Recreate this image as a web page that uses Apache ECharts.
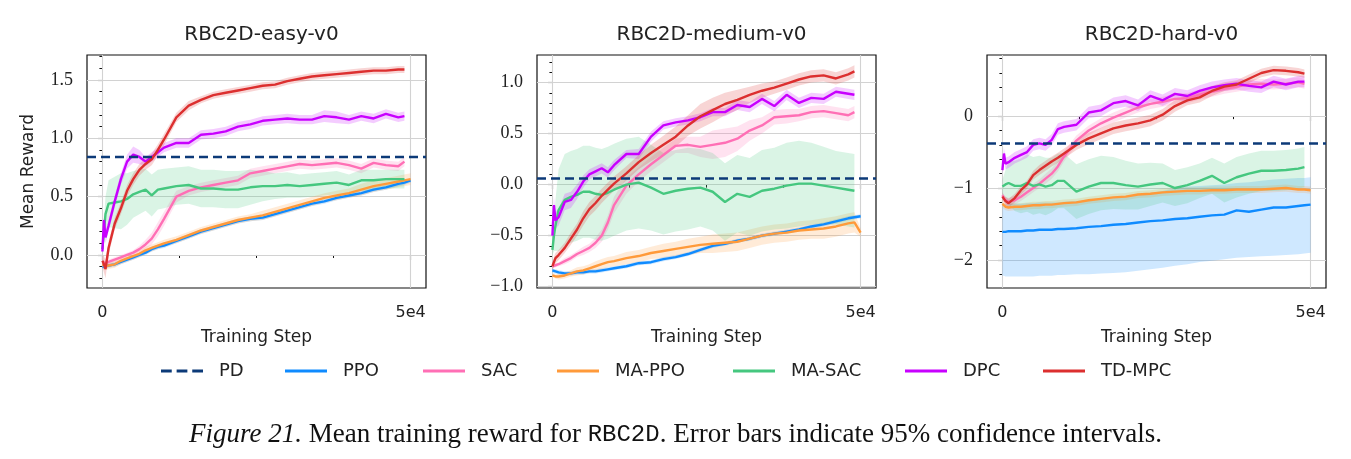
<!DOCTYPE html>
<html lang="en">
<head>
<meta charset="UTF-8">
<title>RBC2D mean training reward</title>
<script src="https://cdn.jsdelivr.net/npm/echarts@6/dist/echarts.min.js"></script>
<style>
  html, body { margin: 0; padding: 0; background: #fff; }
  #main { width: 1351px; height: 459px; }
</style>
</head>
<body>
<div id="main"></div>
<script>
// training steps shared by every curve (the short curves stop at 49000)
const steps = [0, 250, 500, 1000, 2000, 3000, 4000, 5000, 6000, 7000, 8000, 9000, 10000,
  12000, 14000, 16000, 18000, 20000, 22000, 24000, 26000, 28000, 30000, 32000, 34000,
  36000, 38000, 40000, 42000, 44000, 46000, 48000, 49000, 50000];

const names = ['PD', 'PPO', 'SAC', 'MA-PPO', 'MA-SAC', 'DPC', 'TD-MPC'];
const panelTitles = ['RBC2D-easy-v0', 'RBC2D-medium-v0', 'RBC2D-hard-v0'];
const pdLevel = [0.84, 0.06, -0.38];

const yMajor = [[0, 0.5, 1, 1.5], [-1, -0.5, 0, 0.5, 1], [-2, -1, 0]];
const yTickLabels = [['0.0', '0.5', '1.0', '1.5'], ['\u22121.0', '\u22120.5', '0.0', '0.5', '1.0'], ['\u22122', '\u22121', '0']];
const xTickLabels = ['0', '5e4'];

// ---- RBC2D-easy-v0 ----
const easyPPO = [-0.1, -0.1, -0.1, -0.09, -0.08, -0.06, -0.04, -0.02, 0.0, 0.02, 0.05, 0.07, 0.08, 0.12, 0.16, 0.2, 0.23, 0.26, 0.29, 0.31, 0.32, 0.35, 0.38, 0.41, 0.44, 0.46, 0.49, 0.51, 0.53, 0.56, 0.58, 0.61, 0.62, 0.64];
const easyPPOci = [0.02, 0.02, 0.02, 0.02, 0.02, 0.02, 0.02, 0.02, 0.02, 0.02, 0.02, 0.02, 0.02, 0.02, 0.02, 0.02, 0.02, 0.02, 0.02, 0.02, 0.02, 0.02, 0.02, 0.02, 0.02, 0.02, 0.02, 0.02, 0.02, 0.02, 0.02, 0.02, 0.02, 0.02];
const easySAC = [-0.06, -0.07, -0.07, -0.06, -0.04, -0.02, 0.0, 0.02, 0.05, 0.09, 0.14, 0.22, 0.31, 0.5, 0.55, 0.58, 0.6, 0.62, 0.64, 0.7, 0.72, 0.74, 0.76, 0.78, 0.77, 0.78, 0.79, 0.77, 0.74, 0.79, 0.77, 0.76, 0.8];
const easySACci = [0.02, 0.02, 0.02, 0.02, 0.02, 0.02, 0.02, 0.02, 0.03, 0.04, 0.05, 0.06, 0.06, 0.05, 0.04, 0.04, 0.04, 0.04, 0.04, 0.04, 0.04, 0.04, 0.04, 0.04, 0.04, 0.04, 0.04, 0.04, 0.04, 0.04, 0.04, 0.04, 0.04];
const easyMAPPO = [-0.08, -0.09, -0.1, -0.09, -0.08, -0.05, -0.03, -0.01, 0.01, 0.04, 0.06, 0.08, 0.1, 0.13, 0.17, 0.21, 0.24, 0.27, 0.3, 0.32, 0.34, 0.37, 0.4, 0.43, 0.46, 0.49, 0.51, 0.53, 0.56, 0.59, 0.61, 0.63, 0.64, 0.65];
const easyMAPPOci = [0.03, 0.03, 0.03, 0.03, 0.03, 0.03, 0.03, 0.03, 0.03, 0.03, 0.03, 0.03, 0.03, 0.03, 0.03, 0.03, 0.03, 0.03, 0.03, 0.03, 0.04, 0.04, 0.04, 0.04, 0.04, 0.04, 0.04, 0.04, 0.05, 0.05, 0.05, 0.05, 0.05, 0.05];
const easyMASAC = [0.05, 0.2, 0.35, 0.44, 0.45, 0.46, 0.48, 0.52, 0.54, 0.56, 0.51, 0.56, 0.57, 0.59, 0.6, 0.57, 0.57, 0.56, 0.56, 0.58, 0.59, 0.59, 0.6, 0.59, 0.6, 0.61, 0.62, 0.6, 0.64, 0.64, 0.65, 0.65, 0.65];
const easyMASACci = [0.05, 0.1, 0.15, 0.2, 0.22, 0.24, 0.22, 0.2, 0.19, 0.18, 0.18, 0.17, 0.17, 0.16, 0.16, 0.16, 0.16, 0.16, 0.16, 0.15, 0.13, 0.11, 0.11, 0.1, 0.1, 0.1, 0.1, 0.09, 0.09, 0.09, 0.08, 0.08, 0.08];
const easyDPC = [0.03, 0.3, 0.15, 0.25, 0.46, 0.65, 0.8, 0.86, 0.84, 0.8, 0.84, 0.88, 0.92, 0.96, 0.96, 1.03, 1.04, 1.06, 1.1, 1.12, 1.15, 1.16, 1.17, 1.16, 1.16, 1.19, 1.18, 1.16, 1.19, 1.17, 1.21, 1.18, 1.19];
const easyDPCci = [0.03, 0.05, 0.05, 0.05, 0.05, 0.05, 0.06, 0.07, 0.06, 0.04, 0.04, 0.04, 0.04, 0.04, 0.04, 0.04, 0.04, 0.04, 0.04, 0.04, 0.04, 0.04, 0.04, 0.04, 0.04, 0.05, 0.05, 0.04, 0.04, 0.04, 0.04, 0.04, 0.04];
const easyTD = [-0.05, -0.08, -0.12, 0.06, 0.27, 0.4, 0.55, 0.65, 0.73, 0.78, 0.82, 0.9, 0.99, 1.18, 1.28, 1.33, 1.37, 1.39, 1.41, 1.43, 1.45, 1.46, 1.49, 1.51, 1.53, 1.54, 1.55, 1.56, 1.57, 1.58, 1.58, 1.59, 1.59];
const easyTDci = [0.05, 0.07, 0.08, 0.06, 0.05, 0.05, 0.05, 0.05, 0.05, 0.05, 0.05, 0.05, 0.05, 0.04, 0.04, 0.03, 0.03, 0.03, 0.03, 0.03, 0.03, 0.03, 0.03, 0.03, 0.03, 0.03, 0.03, 0.03, 0.03, 0.03, 0.03, 0.03, 0.03];

// ---- RBC2D-medium-v0 ----
const medPPO = [-0.84, -0.85, -0.85, -0.86, -0.87, -0.87, -0.86, -0.86, -0.85, -0.85, -0.84, -0.83, -0.82, -0.8, -0.77, -0.76, -0.73, -0.71, -0.68, -0.64, -0.6, -0.58, -0.55, -0.53, -0.5, -0.48, -0.46, -0.44, -0.41, -0.39, -0.36, -0.33, -0.32, -0.31];
const medPPOci = [0.02, 0.02, 0.02, 0.02, 0.02, 0.02, 0.02, 0.02, 0.02, 0.02, 0.02, 0.02, 0.02, 0.02, 0.02, 0.02, 0.02, 0.02, 0.02, 0.02, 0.02, 0.02, 0.02, 0.02, 0.02, 0.02, 0.02, 0.02, 0.02, 0.02, 0.02, 0.02, 0.02, 0.02];
const medSAC = [-0.8, -0.8, -0.79, -0.78, -0.75, -0.72, -0.68, -0.65, -0.62, -0.57, -0.5, -0.37, -0.2, -0.01, 0.1, 0.2, 0.29, 0.38, 0.39, 0.37, 0.39, 0.41, 0.45, 0.53, 0.58, 0.66, 0.67, 0.68, 0.71, 0.72, 0.7, 0.68, 0.71];
const medSACci = [0.02, 0.02, 0.02, 0.02, 0.03, 0.03, 0.03, 0.04, 0.04, 0.05, 0.06, 0.07, 0.08, 0.08, 0.07, 0.07, 0.07, 0.07, 0.08, 0.1, 0.14, 0.14, 0.12, 0.1, 0.08, 0.07, 0.07, 0.06, 0.06, 0.06, 0.06, 0.06, 0.06];
const medMAPPO = [-0.89, -0.89, -0.9, -0.9, -0.89, -0.87, -0.85, -0.84, -0.82, -0.8, -0.78, -0.76, -0.75, -0.72, -0.7, -0.67, -0.65, -0.63, -0.61, -0.59, -0.58, -0.57, -0.56, -0.53, -0.5, -0.48, -0.47, -0.45, -0.44, -0.43, -0.41, -0.38, -0.37, -0.47];
const medMAPPOci = [0.02, 0.02, 0.02, 0.03, 0.03, 0.03, 0.04, 0.04, 0.04, 0.05, 0.05, 0.05, 0.05, 0.06, 0.06, 0.06, 0.07, 0.07, 0.08, 0.08, 0.09, 0.09, 0.09, 0.09, 0.09, 0.09, 0.09, 0.09, 0.09, 0.1, 0.1, 0.1, 0.1, 0.04];
const medMASAC = [-0.64, -0.5, -0.4, -0.25, -0.15, -0.12, -0.1, -0.07, -0.07, -0.09, -0.1, -0.08, -0.05, 0.0, 0.02, -0.03, -0.09, -0.06, -0.04, -0.03, -0.07, -0.17, -0.09, -0.12, -0.06, -0.04, -0.01, 0.01, 0.01, -0.01, -0.03, -0.05, -0.06];
const medMASACci = [0.05, 0.15, 0.25, 0.4, 0.45, 0.45, 0.45, 0.45, 0.45, 0.45, 0.45, 0.45, 0.45, 0.45, 0.45, 0.42, 0.4, 0.4, 0.4, 0.38, 0.38, 0.38, 0.38, 0.38, 0.4, 0.4, 0.42, 0.42, 0.4, 0.38, 0.36, 0.36, 0.36];
const medDPC = [-0.5, -0.2, -0.35, -0.32, -0.17, -0.15, -0.07, 0.03, 0.1, 0.13, 0.16, 0.12, 0.19, 0.3, 0.3, 0.47, 0.58, 0.61, 0.63, 0.66, 0.71, 0.71, 0.78, 0.76, 0.84, 0.77, 0.88, 0.8, 0.85, 0.84, 0.91, 0.89, 0.88];
const medDPCci = [0.05, 0.08, 0.08, 0.08, 0.08, 0.08, 0.07, 0.06, 0.05, 0.05, 0.05, 0.05, 0.05, 0.04, 0.05, 0.05, 0.04, 0.04, 0.04, 0.04, 0.04, 0.04, 0.05, 0.05, 0.05, 0.05, 0.05, 0.05, 0.05, 0.05, 0.05, 0.05, 0.05];
const medTD = [-0.8, -0.76, -0.72, -0.69, -0.62, -0.53, -0.44, -0.33, -0.24, -0.18, -0.11, -0.05, 0.01, 0.11, 0.22, 0.31, 0.39, 0.47, 0.58, 0.67, 0.73, 0.79, 0.83, 0.88, 0.92, 0.95, 0.99, 1.03, 1.06, 1.07, 1.04, 1.08, 1.11];
const medTDci = [0.04, 0.05, 0.05, 0.05, 0.05, 0.06, 0.06, 0.07, 0.07, 0.07, 0.07, 0.07, 0.07, 0.07, 0.07, 0.08, 0.09, 0.1, 0.1, 0.12, 0.12, 0.11, 0.1, 0.08, 0.07, 0.06, 0.06, 0.06, 0.06, 0.06, 0.06, 0.06, 0.06];

// ---- RBC2D-hard-v0 ----
const hardPPO = [-1.61, -1.61, -1.61, -1.6, -1.6, -1.6, -1.59, -1.59, -1.58, -1.58, -1.58, -1.57, -1.57, -1.56, -1.54, -1.53, -1.51, -1.5, -1.48, -1.46, -1.45, -1.43, -1.42, -1.4, -1.38, -1.37, -1.31, -1.33, -1.3, -1.27, -1.27, -1.25, -1.24, -1.23];
const hardPPOlo = [-2.22, -2.22, -2.23, -2.23, -2.23, -2.23, -2.23, -2.23, -2.22, -2.22, -2.22, -2.21, -2.21, -2.2, -2.2, -2.19, -2.18, -2.17, -2.15, -2.13, -2.11, -2.08, -2.06, -2.03, -2.01, -1.99, -1.97, -1.96, -1.95, -1.94, -1.93, -1.92, -1.91, -1.9];
const hardPPOhi = [-1.22, -1.22, -1.22, -1.22, -1.22, -1.22, -1.21, -1.21, -1.2, -1.2, -1.2, -1.2, -1.19, -1.18, -1.17, -1.16, -1.14, -1.12, -1.1, -1.07, -1.04, -1.0, -0.98, -0.97, -0.96, -0.95, -0.93, -0.92, -0.9, -0.88, -0.87, -0.86, -0.86, -0.85];
const hardSAC = [-1.1, -1.14, -1.17, -1.19, -1.17, -1.12, -1.06, -1.0, -0.94, -0.87, -0.8, -0.7, -0.56, -0.34, -0.2, -0.1, -0.02, 0.05, 0.12, 0.17, 0.2, 0.24, 0.25, 0.3, 0.34, 0.38, 0.41, 0.44, 0.45, 0.44, 0.45, 0.47, 0.45];
const hardSACci = [0.05, 0.05, 0.05, 0.05, 0.06, 0.06, 0.06, 0.06, 0.06, 0.07, 0.07, 0.07, 0.07, 0.07, 0.07, 0.07, 0.07, 0.07, 0.07, 0.07, 0.07, 0.07, 0.07, 0.07, 0.07, 0.07, 0.07, 0.07, 0.07, 0.07, 0.07, 0.07, 0.07];
const hardMAPPO = [-1.22, -1.24, -1.26, -1.27, -1.26, -1.26, -1.25, -1.24, -1.24, -1.23, -1.23, -1.22, -1.21, -1.2, -1.17, -1.15, -1.13, -1.12, -1.09, -1.08, -1.06, -1.05, -1.04, -1.04, -1.03, -1.03, -1.02, -1.02, -1.02, -1.01, -1.0, -1.02, -1.02, -1.03];
const hardMAPPOci = [0.05, 0.05, 0.05, 0.05, 0.05, 0.05, 0.05, 0.05, 0.05, 0.05, 0.05, 0.05, 0.05, 0.05, 0.05, 0.05, 0.05, 0.05, 0.05, 0.05, 0.05, 0.05, 0.05, 0.05, 0.05, 0.05, 0.05, 0.05, 0.05, 0.05, 0.05, 0.05, 0.05, 0.05];
const hardMASAC = [-0.98, -0.97, -0.95, -0.93, -0.97, -0.97, -0.93, -0.97, -0.95, -0.98, -0.96, -0.9, -0.9, -1.05, -0.98, -0.93, -0.93, -0.96, -0.98, -0.95, -0.93, -1.0, -0.96, -0.9, -0.83, -0.93, -0.85, -0.8, -0.76, -0.76, -0.75, -0.73, -0.71];
const hardMASACci = [0.1, 0.15, 0.2, 0.3, 0.35, 0.38, 0.4, 0.4, 0.4, 0.4, 0.38, 0.38, 0.38, 0.38, 0.38, 0.38, 0.36, 0.34, 0.32, 0.3, 0.27, 0.25, 0.25, 0.24, 0.25, 0.27, 0.28, 0.28, 0.28, 0.28, 0.28, 0.28, 0.28];
const hardDPC = [-0.75, -0.52, -0.66, -0.64, -0.58, -0.54, -0.5, -0.4, -0.38, -0.4, -0.33, -0.18, -0.15, -0.12, 0.05, 0.08, 0.18, 0.21, 0.15, 0.28, 0.22, 0.31, 0.28, 0.35, 0.4, 0.43, 0.45, 0.42, 0.4, 0.48, 0.44, 0.48, 0.48];
const hardDPCci = [0.06, 0.08, 0.08, 0.08, 0.08, 0.08, 0.08, 0.08, 0.08, 0.08, 0.08, 0.08, 0.08, 0.08, 0.08, 0.08, 0.08, 0.08, 0.08, 0.08, 0.08, 0.08, 0.08, 0.08, 0.08, 0.08, 0.08, 0.08, 0.08, 0.08, 0.08, 0.08, 0.08];
const hardTD = [-1.12, -1.15, -1.18, -1.21, -1.14, -1.03, -0.95, -0.82, -0.75, -0.69, -0.63, -0.58, -0.52, -0.4, -0.31, -0.24, -0.17, -0.13, -0.1, -0.06, 0.02, 0.14, 0.22, 0.26, 0.35, 0.41, 0.44, 0.52, 0.6, 0.64, 0.63, 0.61, 0.59];
const hardTDci = [0.05, 0.05, 0.06, 0.06, 0.06, 0.06, 0.06, 0.06, 0.07, 0.07, 0.07, 0.07, 0.07, 0.07, 0.08, 0.08, 0.08, 0.08, 0.08, 0.08, 0.08, 0.08, 0.07, 0.07, 0.07, 0.06, 0.06, 0.06, 0.06, 0.06, 0.06, 0.06, 0.06];

const colors = {
  'PD': '#0c3a78', 'PPO': '#0f8bff', 'SAC': '#ff6fb5', 'MA-PPO': '#ff9a3a',
  'MA-SAC': '#45c77f', 'DPC': '#c800ff', 'TD-MPC': '#dc2f2f'
};

const panels = [
  { PPO: [easyPPO, easyPPOci], SAC: [easySAC, easySACci], 'MA-PPO': [easyMAPPO, easyMAPPOci],
    'MA-SAC': [easyMASAC, easyMASACci], DPC: [easyDPC, easyDPCci], 'TD-MPC': [easyTD, easyTDci] },
  { PPO: [medPPO, medPPOci], SAC: [medSAC, medSACci], 'MA-PPO': [medMAPPO, medMAPPOci],
    'MA-SAC': [medMASAC, medMASACci], DPC: [medDPC, medDPCci], 'TD-MPC': [medTD, medTDci] },
  { PPO: [hardPPO, null, hardPPOlo, hardPPOhi], SAC: [hardSAC, hardSACci], 'MA-PPO': [hardMAPPO, hardMAPPOci],
    'MA-SAC': [hardMASAC, hardMASACci], DPC: [hardDPC, hardDPCci], 'TD-MPC': [hardTD, hardTDci] }
];

// layout
const xMin = -2500, xMax = 52500;
const yRange = [[-0.283, 1.714], [-1.013, 1.27], [-2.39, 0.85]];
const yMinorStep = [0.1, 0.1, 0.2];
const gridLeft = [87, 537, 987];
const gridTop = 55, gridW = 339, gridH = 233;
const sans = 'DejaVu Sans';
const serif = 'Liberation Serif';

var chart = echarts.init(document.getElementById('main'), null, { renderer: 'canvas' });

const grids = [], xAxes = [], yAxes = [], series = [], titles = [];

function pts(vals) { return vals.map((v, i) => [steps[i], v]); }

// confidence band as one polygon built through the axis scales
function bandSeries(xi, yi, lo, hi, color) {
  return {
    type: 'custom', xAxisIndex: xi, yAxisIndex: yi, silent: true, z: 2,
    data: lo.map((v, i) => [steps[i], v, hi[i]]),
    encode: { x: 0, y: [1, 2] },
    renderItem: function (params, api) {
      if (params.dataIndex !== 0) return null;
      const upper = [], lower = [];
      for (let i = 0; i < lo.length; i++) {
        upper.push(api.coord([steps[i], hi[i]]));
        lower.push(api.coord([steps[i], lo[i]]));
      }
      return {
        type: 'polygon',
        shape: { points: upper.concat(lower.reverse()) },
        style: { fill: echarts.color.modifyAlpha(color, 0.2) }
      };
    }
  };
}

panels.forEach(function (p, gi) {
  grids.push({ left: gridLeft[gi], top: gridTop, width: gridW, height: gridH,
    show: true, borderColor: '#111', borderWidth: 1.2, backgroundColor: 'transparent' });

  titles.push({ text: panelTitles[gi], left: gridLeft[gi] + gridW / 2, top: 20, textAlign: 'center',
    textStyle: { fontFamily: sans, fontSize: 20, fontWeight: 'normal', color: '#222' } });

  // x axes: labelled ticks + minor ticks
  xAxes.push({
    gridIndex: gi, type: 'value', min: xMin, max: xMax, position: 'bottom',
    name: 'Training Step', nameLocation: 'middle', nameGap: 41,
    nameTextStyle: { fontFamily: sans, fontSize: 17, color: '#222' },
    axisLine: { show: false },
    axisTick: { show: true, customValues: [0, 50000], length: 5, lineStyle: { color: '#111', width: 1.1 } },
    axisLabel: { customValues: [0, 50000], margin: 17, fontFamily: sans, fontSize: 16, color: '#222',
      formatter: function (v) { return v === 0 ? xTickLabels[0] : xTickLabels[1]; } },
    splitLine: { show: false }
  });
  xAxes.push({
    gridIndex: gi, type: 'value', min: xMin, max: xMax, position: 'bottom',
    axisLine: { show: false },
    axisTick: { show: true, customValues: [12500, 25000, 37500], length: 3, lineStyle: { color: '#111', width: 1 } },
    axisLabel: { show: false }, splitLine: { show: false }
  });

  const majors = yMajor[gi];
  const minors = [];
  const st = yMinorStep[gi];
  for (let k = Math.ceil(yRange[gi][0] / st); k * st <= yRange[gi][1]; k++) {
    const v = Math.round(k * st * 10) / 10;
    if (majors.indexOf(v) < 0) minors.push(v);
  }
  yAxes.push({
    gridIndex: gi, type: 'value', min: yRange[gi][0], max: yRange[gi][1], position: 'left',
    name: gi === 0 ? 'Mean Reward' : '', nameLocation: 'middle', nameGap: 50,
    nameTextStyle: { fontFamily: sans, fontSize: 17, color: '#222' },
    axisLine: { show: false },
    axisTick: { show: true, customValues: majors, length: 5, lineStyle: { color: '#111', width: 1.1 } },
    axisLabel: { customValues: majors, margin: 14, fontFamily: serif, fontSize: 18, color: '#222',
      formatter: function (v) { return yTickLabels[gi][majors.indexOf(v)]; } },
    splitLine: { show: false }
  });
  yAxes.push({
    gridIndex: gi, type: 'value', min: yRange[gi][0], max: yRange[gi][1], position: 'left',
    axisLine: { show: false },
    axisTick: { show: true, customValues: minors, length: 3, lineStyle: { color: '#111', width: 1 } },
    axisLabel: { show: false }, splitLine: { show: false }
  });

  const xi = gi * 2, yi = gi * 2;

  // PD baseline (dashed) carrying the light grid lines
  series.push({
    name: 'PD', type: 'line', xAxisIndex: xi, yAxisIndex: yi, symbol: 'none', silent: true, z: 4,
    data: [[xMin, pdLevel[gi]], [xMax, pdLevel[gi]]],
    lineStyle: { color: colors.PD, width: 2.5, type: [9, 5] },
    itemStyle: { color: colors.PD },
    markLine: {
      silent: true, symbol: 'none', z: 1, animation: false, label: { show: false },
      lineStyle: { color: '#d2d2d2', width: 1.1, type: 'solid' },
      emphasis: { disabled: true },
      data: majors.map(function (v) { return { yAxis: v }; }).concat([{ xAxis: 0 }, { xAxis: 50000 }])
    }
  });

  names.slice(1).forEach(function (nm) {
    const entry = p[nm];
    const mean = entry[0];
    let lo, hi;
    if (entry[1]) {
      lo = mean.map((v, i) => v - entry[1][i]);
      hi = mean.map((v, i) => v + entry[1][i]);
    } else {
      lo = entry[2]; hi = entry[3];
    }
    series.push(bandSeries(xi, yi, lo, hi, colors[nm]));
    series.push({
      name: nm, type: 'line', xAxisIndex: xi, yAxisIndex: yi, symbol: 'none', z: 3,
      data: pts(mean), lineStyle: { color: colors[nm], width: 2.4 }, itemStyle: { color: colors[nm] }
    });
  });
});

// one legend entry per name, placed along the bottom row
const legendLeft = [161, 285, 423, 557, 733, 905, 1043];
const dashIcon = 'path://M0,0H11V3H0Z M16,0H27V3H16Z M32,0H43V3H32Z';
const legends = names.map(function (nm, i) {
  return {
    data: [nm], left: legendLeft[i], top: 362, padding: 0, itemWidth: 42, itemHeight: 3,
    icon: nm === 'PD' ? dashIcon : 'rect', selectedMode: false,
    itemStyle: { color: colors[nm], borderWidth: 0 },
    textStyle: { fontFamily: sans, fontSize: 18, color: '#222', padding: [0, 0, 0, 11] }
  };
});

titles.push({
  text: '{i|Figure 21.} Mean training reward for {m|RBC2D}. Error bars indicate 95% confidence intervals.',
  left: 'center', top: 416,
  textStyle: {
    fontFamily: serif, fontSize: 27, fontWeight: 'normal', color: '#111',
    rich: {
      i: { fontFamily: serif, fontSize: 27, fontStyle: 'italic', color: '#111' },
      m: { fontFamily: 'Liberation Mono', fontSize: 24, color: '#111' }
    }
  }
});

var option = {
  animation: false,
  backgroundColor: '#fff',
  title: titles,
  legend: legends,
  grid: grids,
  xAxis: xAxes,
  yAxis: yAxes,
  series: series
};
chart.setOption(option);
</script>
</body>
</html>
